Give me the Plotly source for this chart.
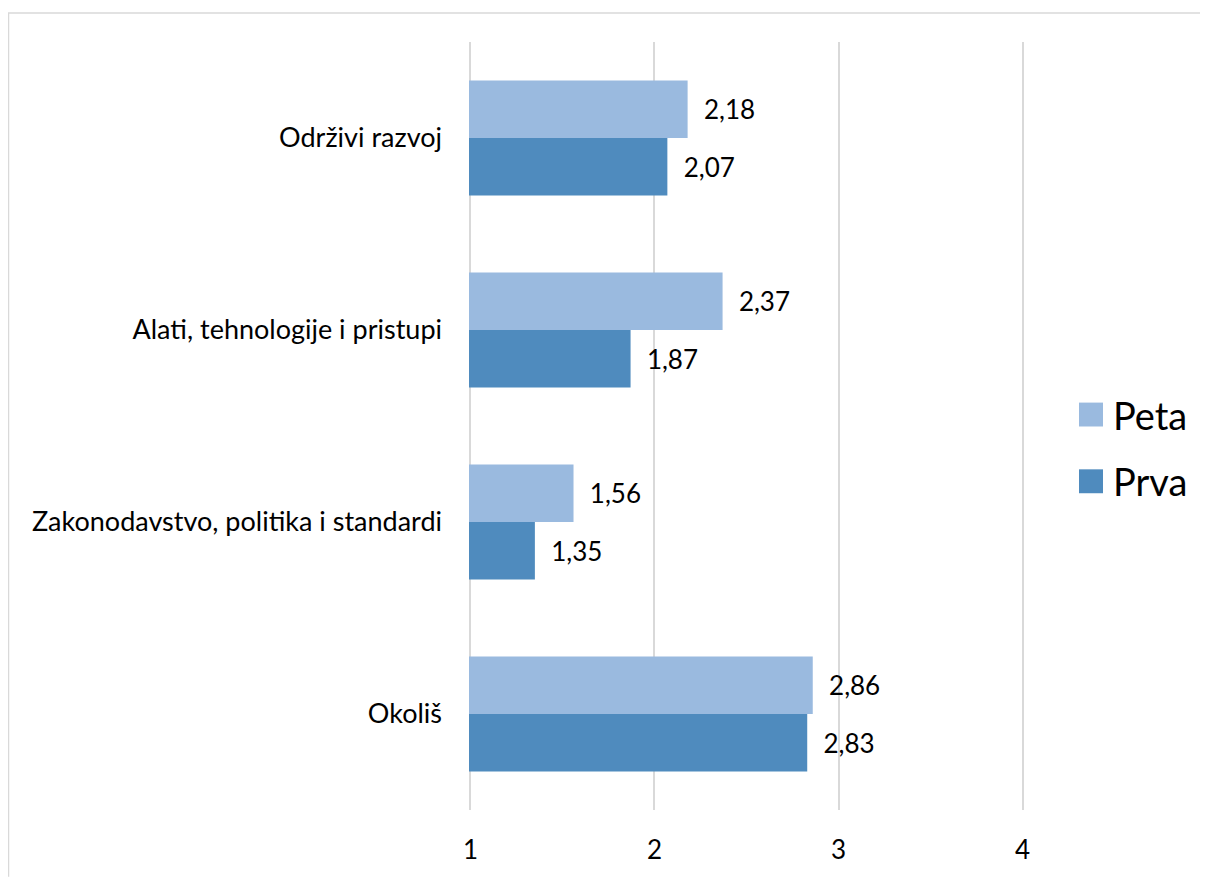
import plotly.graph_objects as go

categories = ["Održivi razvoj", "Alati, tehnologije i pristupi",
              "Zakonodavstvo, politika i standardi", "Okoliš"]
peta = [2.18, 2.37, 1.56, 2.86]
prva = [2.07, 1.87, 1.35, 2.83]
x_ticks = [1, 2, 3, 4]
series_names = ["Peta", "Prva"]
colors = ["#9ABADF", "#4F8BBE"]

FONT = "Lato"
OFF = 8  # page body margin
W, H = 1200, 869
L, R, T, B = 461, 184, 34, 64
pw, ph = W - L - R, H - T - B

def px2x(p):
    return (p - OFF - L) / pw

def px2y(p):
    return (H - B - (p - OFF)) / ph

fig = go.Figure()
for name, vals, col in zip(series_names, [peta, prva], colors):
    fig.add_trace(go.Bar(
        name=name, y=categories, x=vals, orientation="h",
        marker=dict(color=col, line=dict(width=0)),
        texttemplate="\u00a0\u00a0%{x:.2f}", textposition="outside",
        outsidetextfont=dict(family=FONT, size=26, color="#000000"),
        constraintext="none", cliponaxis=False, showlegend=False,
    ))

shapes = [
    dict(type="line", xref="paper", yref="paper", x0=px2x(8.5), x1=px2x(8.5),
         y0=px2y(880), y1=px2y(13), line=dict(color="#D9D9D9", width=1.5)),
    dict(type="line", xref="paper", yref="paper", x0=px2x(8), x1=px2x(1212),
         y0=px2y(13), y1=px2y(13), line=dict(color="#D9D9D9", width=1.5)),
]
annotations = []
legend_rows = [416, 483]
for name, col, cy in zip(series_names, colors, legend_rows):
    shapes.append(dict(type="rect", xref="paper", yref="paper",
                       x0=px2x(1079), x1=px2x(1103), y0=px2y(cy + 12), y1=px2y(cy - 12),
                       fillcolor=col, line=dict(width=0)))
    annotations.append(dict(xref="paper", yref="paper", x=px2x(1111), y=px2y(cy),
                            text=name, showarrow=False, xanchor="left", yanchor="middle",
                            font=dict(family=FONT, size=38, color="#000000")))

fig.update_layout(
    width=W, height=H, margin=dict(l=L, r=R, t=T, b=B, pad=0),
    paper_bgcolor="white", plot_bgcolor="white",
    barmode="group", bargap=0.4, bargroupgap=0,
    separators=",.",
    font=dict(family=FONT, size=27, color="#000000"),
    shapes=shapes, annotations=annotations,
    xaxis=dict(range=[0.992, 4.008], tickvals=x_ticks, ticktext=[str(v) for v in x_ticks],
               showgrid=True, gridcolor="#D9D9D9", gridwidth=2,
               zeroline=False, showline=False, ticks="",
               ticklabelstandoff=22, tickfont=dict(family=FONT, size=26)),
    yaxis=dict(categoryorder="array", categoryarray=categories, autorange="reversed",
               showgrid=False, zeroline=False, showline=False, ticks="",
               ticklabelstandoff=26, tickfont=dict(family=FONT, size=27)),
)

fig.write_html("out.html")
